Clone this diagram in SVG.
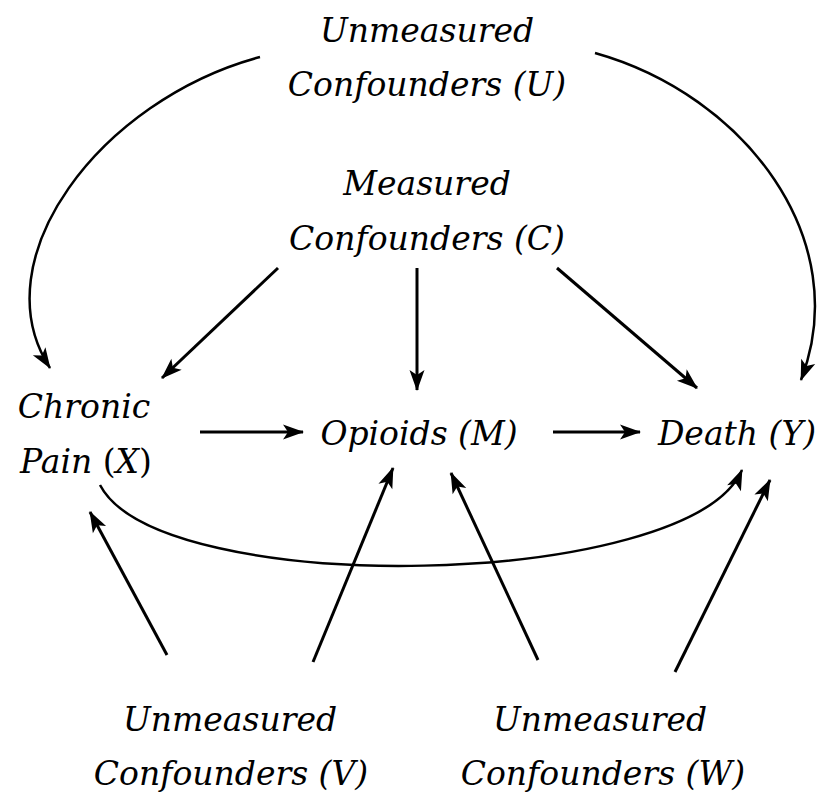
<svg xmlns="http://www.w3.org/2000/svg" width="824" height="800" viewBox="0 0 824 800">
<style>
text{font-family:'DejaVu Serif','Liberation Serif',serif;font-size:33px;font-style:italic;fill:#000;text-anchor:middle}
.up{font-style:normal}
.e{fill:none;stroke:#000;stroke-width:3;marker-end:url(#ah)}
.c{fill:none;stroke:#000;stroke-width:2.5;marker-end:url(#ah)}
</style>
<defs>
<marker id="ah" markerUnits="userSpaceOnUse" markerWidth="22" markerHeight="16" refX="20" refY="7.5" orient="auto" overflow="visible">
<path d="M0,0 L21,7.5 L0,15 L5,7.5 z" fill="#000"/>
</marker>
</defs>
<rect width="824" height="800" fill="#fff"/>
<g id="U"><text x="427" y="42">Unmeasured</text><text x="427" y="96">Confounders (U)</text></g>
<g id="C"><text x="427" y="195">Measured</text><text x="427" y="250">Confounders (C)</text></g>
<g id="X"><text x="84" y="418">Chronic</text><text x="86" y="473">Pain <tspan class="up">(</tspan>X<tspan class="up">)</tspan></text></g>
<g id="M"><text x="419" y="445">Opioids (M)</text></g>
<g id="Y"><text x="737" y="445">Death (Y)</text></g>
<g id="V"><text x="230" y="731">Unmeasured</text><text x="231" y="785">Confounders (V)</text></g>
<g id="W"><text x="600" y="731">Unmeasured</text><text x="603" y="785">Confounders (W)</text></g>
<g id="connectors">
<path class="c" d="M260,57 C100,100 -20,260 50,368"/>
<path class="c" d="M595,53 C745,95 855,240 801,380"/>
<path class="c" d="M100,485 C160,600 690,590 742,470"/>
<path class="e" d="M278,268 L162,378"/>
<path class="e" d="M417,268 L417,390"/>
<path class="e" d="M557,268 L697,388"/>
<path class="e" d="M200,432 L303,432"/>
<path class="e" d="M553,432 L640,432"/>
<path class="e" d="M167,655 L90,512"/>
<path class="e" d="M313,662 L393,468"/>
<path class="e" d="M538,660 L451,473"/>
<path class="e" d="M675,672 L770,480"/>
</g>
</svg>
